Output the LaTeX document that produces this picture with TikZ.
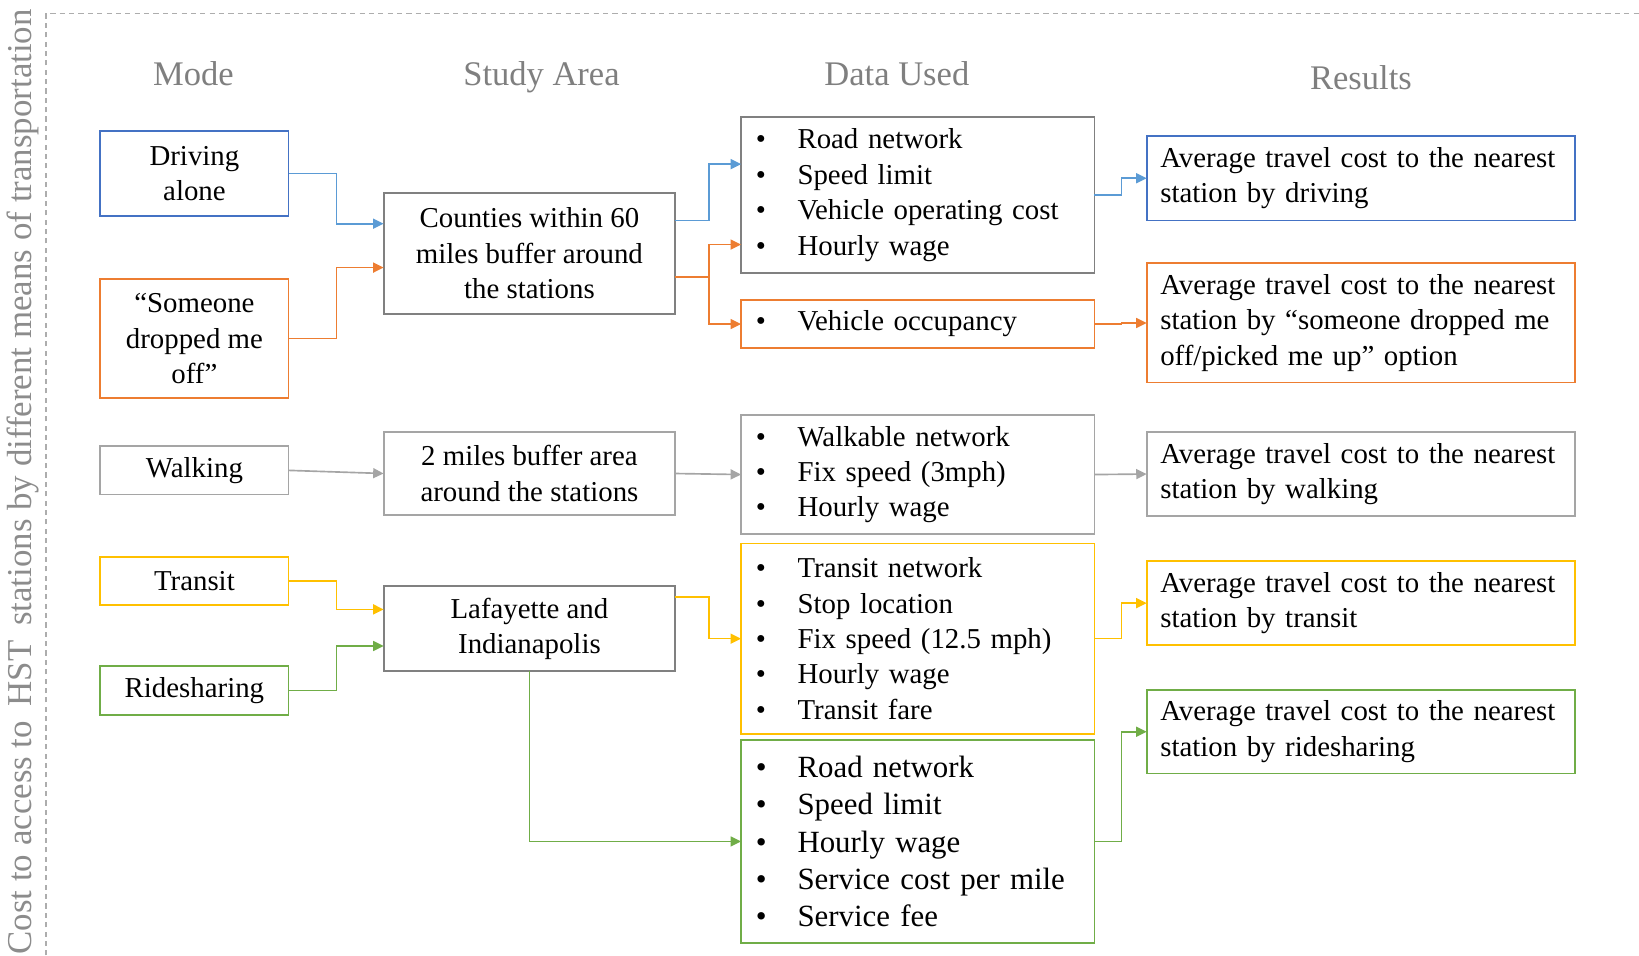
\documentclass[tikz,border=0pt]{standalone}
\usepackage{fontspec}
\setmainfont{Liberation Serif}
\usetikzlibrary{arrows.meta, positioning}

\definecolor{cblue}{HTML}{4472C4}
\definecolor{cblueln}{HTML}{5B9BD5}
\definecolor{corange}{HTML}{ED7D31}
\definecolor{cgrey}{HTML}{808080}
\definecolor{clight}{HTML}{A5A5A5}
\definecolor{cyellow}{HTML}{FFC000}
\definecolor{cgreen}{HTML}{70AD47}
\definecolor{chead}{HTML}{7F7F7F}
\definecolor{cside}{HTML}{8C8C8C}
\definecolor{cframe}{HTML}{ADADAD}

\newcommand{\bul}{\makebox[0.8cm][l]{\textbullet}}

\begin{document}
\begin{tikzpicture}[
  mb/.style={rectangle, draw, line width=1pt, outer sep=0pt, minimum width=3.6cm, align=center, inner sep=2pt},
  ab/.style={rectangle, draw=cgrey, line width=1pt, outer sep=0pt, minimum width=5.58cm, align=center},
  db/.style={rectangle, draw=cgrey, line width=1pt, outer sep=0pt, minimum width=6.76cm, text width=6.2cm, inner xsep=0.28cm, align=left},
  rb/.style={rectangle, draw, line width=1pt, outer sep=0pt, minimum width=8.2cm, minimum height=1.62cm, text width=7.68cm, inner xsep=0.26cm, align=left},
  hd/.style={anchor=base, text=chead, font=\fontsize{18.8}{22}\selectfont},
  arr/.style={-{Triangle[length=0.2cm, width=0.19cm]}, line width=0.9pt},
  font=\fontsize{15.7}{19.3}\selectfont
]
\useasboundingbox (0,0) rectangle (31.36,-18.28);

\draw[cframe, line width=0.6pt, dash pattern=on 2.8pt off 2.3pt] (0.88,-18.28) -- (0.88,-0.26) -- (31.36,-0.26);
\node[rotate=90, text=cside, font=\fontsize{19}{22}\selectfont] (side) at (0.44,-9.22) {Cost to access to\, HST\, stations by different means of transportation};

\node[hd] (hmode) at (3.7,-1.63) {Mode};
\node[hd] (harea) at (10.36,-1.63) {Study Area};
\node[hd] (hdata) at (17.16,-1.63) {Data Used};
\node[hd] (hres) at (26.04,-1.71) {Results};

\node[mb, draw=cblue, minimum height=1.64cm] (drv) at (3.72,-3.32) {Driving\\alone};
\node[mb, draw=corange, minimum height=2.28cm, below=1.2cm of drv] (drop) {``Someone\\dropped me\\off''};
\node[mb, draw=clight, minimum height=0.92cm, below=0.92cm of drop] (walk) {Walking};
\node[mb, draw=cyellow, minimum height=0.92cm, below=1.2cm of walk] (tra) {Transit};
\node[mb, draw=cgreen, minimum height=0.94cm, below=1.16cm of tra] (ride) {Ridesharing};

\node[ab, minimum height=2.3cm] (cty) at (10.13,-4.85) {Counties within 60\\miles buffer around\\the stations};
\node[ab, draw=clight, minimum height=1.6cm, below=2.26cm of cty] (buf) {2 miles buffer area\\around the stations};
\node[ab, minimum height=1.62cm, below=1.36cm of buf] (laf) {Lafayette and\\Indianapolis};

\node[db, minimum height=2.98cm] (dat1) at (17.56,-3.73) {\bul Road network\\\bul Speed limit\\\bul Vehicle operating cost\\\bul Hourly wage};
\node[db, draw=corange, minimum height=0.92cm, below=0.52cm of dat1] (occ) {\bul Vehicle occupancy};
\node[db, draw=clight, minimum height=2.28cm, below=1.28cm of occ] (dwk) {\bul Walkable network\\\bul Fix speed (3mph)\\\bul Hourly wage};
\node[db, draw=cyellow, minimum height=3.64cm, below=0.18cm of dwk] (dtr) {\bul Transit network\\\bul Stop location\\\bul Fix speed (12.5 mph)\\\bul Hourly wage\\\bul Transit fare};
\node[db, draw=cgreen, minimum height=3.88cm, below=0.12cm of dtr, font=\fontsize{16.8}{20.2}\selectfont] (drd) {\bul Road network\\\bul Speed limit\\\bul Hourly wage\\\bul Service cost per mile\\\bul Service fee};

\node[rb, draw=cblue] (r1) at (26.04,-3.41) {Average travel cost to the nearest\\station by driving};
\node[rb, draw=corange, minimum height=2.28cm, below=0.82cm of r1] (r2) {Average travel cost to the nearest\\station by ``someone dropped me\\off/picked me up'' option};
\node[rb, draw=clight, below=0.94cm of r2] (r3) {Average travel cost to the nearest\\station by walking};
\node[rb, draw=cyellow, minimum height=1.6cm, below=0.86cm of r3] (r4) {Average travel cost to the nearest\\station by transit};
\node[rb, draw=cgreen, minimum height=1.6cm, below=0.86cm of r4] (r5) {Average travel cost to the nearest\\station by ridesharing};

\draw[arr, cblueln] (drv.east) -- ++(0.92,0) |- ([yshift=0.57cm]cty.west);
\draw[arr, corange] (drop.east) -- ++(0.92,0) |- ([yshift=-0.27cm]cty.west);
\draw[arr, cblueln] ([yshift=0.63cm]cty.east) -- ++(0.64,0) |- ([yshift=0.59cm]dat1.west);
\draw[arr, corange] ([yshift=-0.45cm]cty.east) -- ++(0.64,0) coordinate (oj) |- ([yshift=-0.95cm]dat1.west);
\draw[arr, corange] (oj) |- (occ.west);
\draw[arr, cblueln] (dat1.east) -- ++(0.52,0) |- (r1.west);
\draw[arr, corange] (occ.east) -- ++(0.52,0) |- (r2.west);
\draw[arr, clight] (walk.east) -- (buf.west);
\draw[arr, clight] (buf.east) -- (dwk.west);
\draw[arr, clight] (dwk.east) -- (r3.west);
\draw[arr, cyellow] (tra.east) -- ++(0.92,0) |- ([yshift=0.37cm]laf.west);
\draw[arr, cgreen] (ride.east) -- ++(0.92,0) |- ([yshift=-0.33cm]laf.west);
\draw[arr, cyellow] ([yshift=0.61cm]laf.east) -- ++(0.64,0) |- (dtr.west);
\draw[arr, cgreen] (laf.south) |- (drd.west);
\draw[arr, cyellow] (dtr.east) -- ++(0.52,0) |- (r4.west);
\draw[arr, cgreen] (drd.east) -- ++(0.52,0) |- (r5.west);
\end{tikzpicture}
\end{document}
